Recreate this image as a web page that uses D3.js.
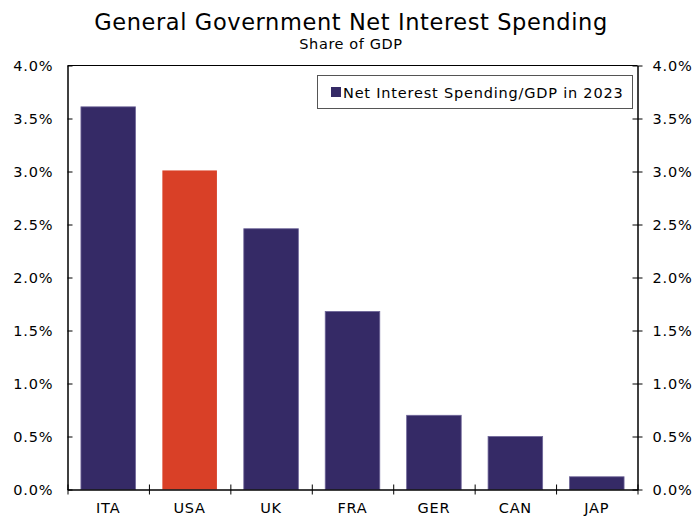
<!DOCTYPE html>
<html>
<head>
<meta charset="utf-8">
<script src="https://cdn.jsdelivr.net/npm/d3@7"></script>
<style>
  html, body { margin: 0; padding: 0; background: #fff; }
  svg { display: block; font-family: "DejaVu Sans", Verdana, sans-serif; }
</style>
</head>
<body>
<svg id="chart" width="693" height="516"></svg>
<script>
// Net interest spending as share of GDP, 2023
const countries = ["ITA", "USA", "UK", "FRA", "GER", "CAN", "JAP"];
const netInterest = [3.61, 3.01, 2.46, 1.68, 0.70, 0.50, 0.12];
const highlight = ["USA"];
const yTicks = [0, 0.5, 1.0, 1.5, 2.0, 2.5, 3.0, 3.5, 4.0];
const seriesName = "Net Interest Spending/GDP in 2023";

const navy = "#352a66";
const red = "#d94027";
const labelSize = 14.5;
const labelSpacing = 0.8;

const svg = d3.select("#chart");
const m = { left: 67.5, right: 637.5, top: 65.5, bottom: 489.5 };

const x = d3.scaleBand().domain(countries).range([m.left, m.right]).paddingInner(0.33).paddingOuter(0.165);
const xEdges = d3.scaleLinear().domain([0, countries.length]).range([m.left, m.right]);
const y = d3.scaleLinear().domain([0, 4]).range([m.bottom, m.top]);

// Title
svg.append("text").attr("x", 351).attr("y", 30).attr("text-anchor", "middle")
  .attr("font-size", 22.5).attr("letter-spacing", 0.6).attr("fill", "#000")
  .text("General Government Net Interest Spending");
svg.append("text").attr("x", 351).attr("y", 49).attr("text-anchor", "middle")
  .attr("font-size", 14.5).attr("letter-spacing", 0.6).attr("fill", "#000").text("Share of GDP");

// Bars
svg.append("g").selectAll("rect").data(countries).join("rect")
  .attr("x", d => x(d))
  .attr("width", x.bandwidth())
  .attr("y", (d, i) => y(netInterest[i]))
  .attr("height", (d, i) => y(0) - y(netInterest[i]))
  .attr("fill", d => highlight.includes(d) ? red : navy)
  .attr("stroke", d => highlight.includes(d) ? "none" : "#6f6699")
  .attr("stroke-width", 0.8);

// Top frame line
svg.append("line").attr("x1", m.left).attr("x2", m.right).attr("y1", m.top).attr("y2", m.top)
  .attr("stroke", "#000").attr("stroke-width", 1);

const fmt = d => d.toFixed(1) + "%";

// Left axis
const left = svg.append("g").attr("transform", `translate(${m.left},0)`)
  .call(d3.axisLeft(y).tickValues(yTicks).tickFormat(fmt).tickSizeInner(5).tickSizeOuter(0).tickPadding(10));
left.selectAll(".tick line").attr("x2", 5);
// Right axis
const right = svg.append("g").attr("transform", `translate(${m.right},0)`)
  .call(d3.axisRight(y).tickValues(yTicks).tickFormat(fmt).tickSizeInner(5).tickSizeOuter(0).tickPadding(10));
right.selectAll(".tick line").attr("x2", -5).attr("x1", 5);
// Bottom axis: ticks at category boundaries
const bottom = svg.append("g").attr("transform", `translate(0,${m.bottom})`)
  .call(d3.axisBottom(xEdges).tickValues(d3.range(0, countries.length + 1)).tickFormat("").tickSizeInner(5).tickSizeOuter(0));
bottom.selectAll(".tick line").attr("y1", -5).attr("y2", 5);
svg.append("g").selectAll("text").data(countries).join("text")
  .attr("x", d => x(d) + x.bandwidth() / 2)
  .attr("y", m.bottom + 23)
  .attr("text-anchor", "middle").attr("font-size", labelSize).attr("letter-spacing", labelSpacing)
  .attr("fill", "#000")
  .text(d => d);

[left, right, bottom].forEach(g => {
  g.select(".domain").attr("stroke", "#000").attr("stroke-width", 1.5);
  g.selectAll(".tick line").attr("stroke", "#000");
  g.selectAll(".tick text").attr("font-size", labelSize).attr("letter-spacing", labelSpacing)
    .attr("fill", "#000").attr("font-family", "DejaVu Sans, Verdana, sans-serif");
});
// right-anchored labels: letter-spacing adds trailing space, shift back
left.selectAll(".tick text").attr("dx", labelSpacing);

// Legend
const lg = svg.append("g");
lg.append("rect").attr("x", 317.5).attr("y", 75.5).attr("width", 315).attr("height", 33)
  .attr("fill", "#fff").attr("stroke", "#555").attr("stroke-width", 1);
lg.append("rect").attr("x", 331).attr("y", 87).attr("width", 10).attr("height", 10).attr("fill", navy);
lg.append("text").attr("x", 343).attr("y", 97.5).attr("font-size", labelSize).attr("letter-spacing", labelSpacing)
  .attr("fill", "#000").text(seriesName);
</script>
</body>
</html>
